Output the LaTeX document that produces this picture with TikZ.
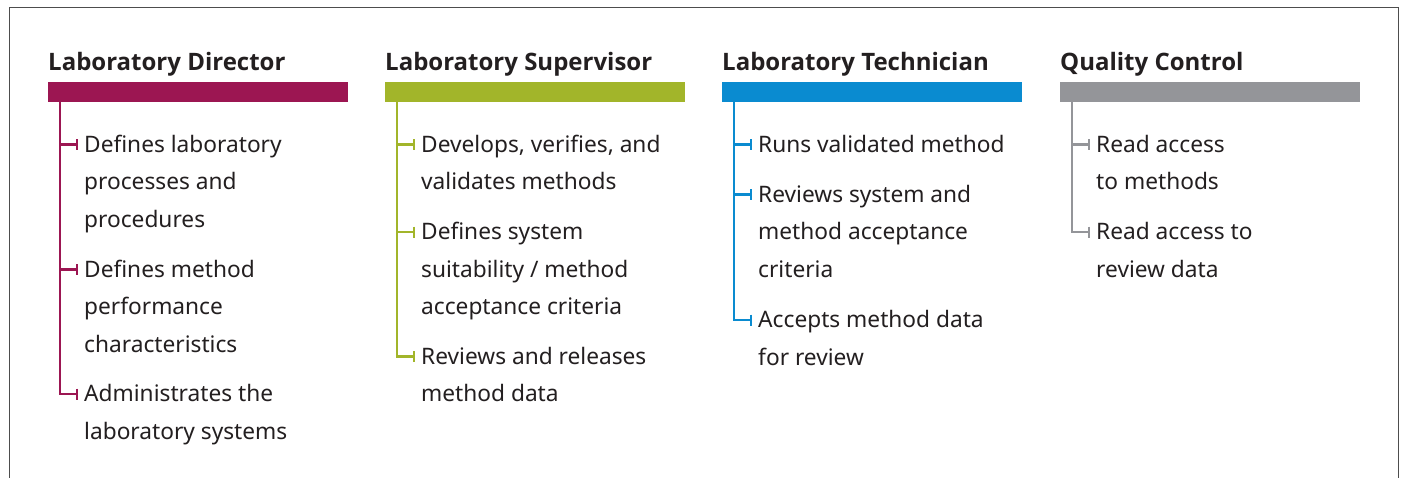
\documentclass[tikz,border=0pt]{standalone}
\usepackage{fontspec}
\setmainfont{Noto Sans}
\newfontfamily\headfont{Open Sans}
\usetikzlibrary{arrows.meta}
\definecolor{cdir}{HTML}{9C1652}
\definecolor{csup}{HTML}{A2B52A}
\definecolor{ctec}{HTML}{0A8BD0}
\definecolor{cqc}{HTML}{949599}
\definecolor{ctxt}{HTML}{231F20}
\definecolor{cframe}{HTML}{4D4D4D}
\tikzset{
  head/.style={anchor=base west, inner sep=0pt, text=ctxt, font=\headfont\fontsize{24}{28}\selectfont\bfseries},
  bar/.style={anchor=north west, inner sep=0pt, minimum width=300pt, minimum height=20pt, draw=none},
  item/.style={anchor=base west, inner xsep=6pt, inner ysep=0pt, align=left, text=ctxt, font=\fontsize{22.7}{37.5}\selectfont},
  stem/.style={line width=2.4pt},
  tick/.style={line width=2.4pt, -{Bar[width=11pt,line width=2.2pt]}},
}
\begin{document}
\begin{tikzpicture}[x=1pt,y=-1pt]
\useasboundingbox (0,0) rectangle (1404,477);
\draw[cframe, line width=1.5pt] (9.5,480) -- (9.5,7.5) -- (1398.5,7.5) -- (1398.5,480);

% ---------- Column 1: Laboratory Director
% (the base anchor of a multi-line node is the baseline of its last line)
\node[head] (h1) at (48,70) {Laboratory Director};
\node[bar, fill=cdir] (b1) at (48,82) {};
\node[item] (d1) at (78,227) {Defines laboratory\\processes and\\procedures};
\node[item] (d2) at (78,352) {Defines method\\performance\\characteristics};
\node[item] (d3) at (78,439) {Administrates the\\laboratory systems};
\coordinate (s1) at (60,102);
\coordinate (t11) at (60,144.5);
\coordinate (t12) at (60,269.5);
\coordinate (t13) at (60,394);
\draw[stem, cdir] (s1) -- (t13) -- (t13 -| d3.west);
\draw[tick, cdir] (t11) -- (t11 -| d1.west);
\draw[tick, cdir] (t12) -- (t12 -| d2.west);
\draw[tick, cdir] (t13) -- (t13 -| d3.west);

% ---------- Column 2: Laboratory Supervisor
\node[head] (h2) at (385,70) {Laboratory Supervisor};
\node[bar, fill=csup] (b2) at (385,82) {};
\node[item] (e1) at (415,189.5) {Develops, verifies, and\\validates methods};
\node[item] (e2) at (415,314.5) {Defines system\\suitability / method\\acceptance criteria};
\node[item] (e3) at (415,401.5) {Reviews and releases\\method data};
\coordinate (s2) at (397,102);
\coordinate (t21) at (397,144.5);
\coordinate (t22) at (397,232);
\coordinate (t23) at (397,356.5);
\draw[stem, csup] (s2) -- (t23) -- (t23 -| e3.west);
\draw[tick, csup] (t21) -- (t21 -| e1.west);
\draw[tick, csup] (t22) -- (t22 -| e2.west);
\draw[tick, csup] (t23) -- (t23 -| e3.west);

% ---------- Column 3: Laboratory Technician
\node[head] (h3) at (722,70) {Laboratory Technician};
\node[bar, fill=ctec] (b3) at (722,82) {};
\node[item] (f1) at (752,152) {Runs validated method};
\node[item] (f2) at (752,277) {Reviews system and\\method acceptance\\criteria};
\node[item] (f3) at (752,365) {Accepts method data\\for review};
\coordinate (s3) at (734,102);
\coordinate (t31) at (734,144.5);
\coordinate (t32) at (734,194.5);
\coordinate (t33) at (734,320);
\draw[stem, ctec] (s3) -- (t33) -- (t33 -| f3.west);
\draw[tick, ctec] (t31) -- (t31 -| f1.west);
\draw[tick, ctec] (t32) -- (t32 -| f2.west);
\draw[tick, ctec] (t33) -- (t33 -| f3.west);

% ---------- Column 4: Quality Control
\node[head] (h4) at (1060,70) {Quality Control};
\node[bar, fill=cqc] (b4) at (1060,82) {};
\node[item] (g1) at (1090,189.5) {Read access\\to methods};
\node[item] (g2) at (1090,277) {Read access to\\review data};
\coordinate (s4) at (1072,102);
\coordinate (t41) at (1072,144.5);
\coordinate (t42) at (1072,232);
\draw[stem, cqc] (s4) -- (t42) -- (t42 -| g2.west);
\draw[tick, cqc] (t41) -- (t41 -| g1.west);
\draw[tick, cqc] (t42) -- (t42 -| g2.west);
\end{tikzpicture}
\end{document}
